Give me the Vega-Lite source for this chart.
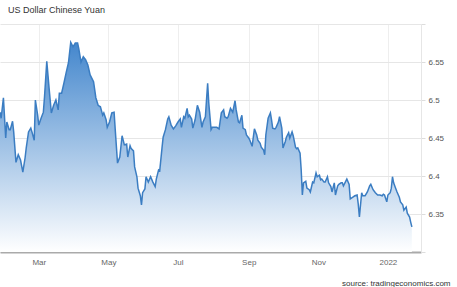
{
  "$schema": "https://vega.github.io/schema/vega-lite/v6.json",
  "width": 421,
  "height": 228,
  "autosize": {"type": "none"},
  "padding": {"left": 0, "top": 24, "right": 36, "bottom": 35},
  "background": "white",
  "title": {
    "text": "US Dollar Chinese Yuan",
    "anchor": "start",
    "frame": "group",
    "dx": 8,
    "offset": 9,
    "font": "Liberation Sans",
    "fontSize": 9,
    "fontWeight": "normal",
    "color": "#333333"
  },
  "config": {
    "view": {"stroke": null},
    "axis": {"labelFont": "Liberation Sans", "titleFont": "Liberation Sans"}
  },
  "data": {
    "values": [
      {"date": "2021-01-26", "rate": 6.484},
      {"date": "2021-01-27", "rate": 6.476},
      {"date": "2021-01-29", "rate": 6.503},
      {"date": "2021-01-31", "rate": 6.450},
      {"date": "2021-02-01", "rate": 6.471},
      {"date": "2021-02-03", "rate": 6.461},
      {"date": "2021-02-04", "rate": 6.461},
      {"date": "2021-02-06", "rate": 6.472},
      {"date": "2021-02-07", "rate": 6.458},
      {"date": "2021-02-09", "rate": 6.418},
      {"date": "2021-02-11", "rate": 6.428},
      {"date": "2021-02-13", "rate": 6.421},
      {"date": "2021-02-15", "rate": 6.405},
      {"date": "2021-02-17", "rate": 6.424},
      {"date": "2021-02-18", "rate": 6.437},
      {"date": "2021-02-20", "rate": 6.458},
      {"date": "2021-02-22", "rate": 6.463},
      {"date": "2021-02-23", "rate": 6.458},
      {"date": "2021-02-25", "rate": 6.447},
      {"date": "2021-02-26", "rate": 6.500},
      {"date": "2021-02-28", "rate": 6.480},
      {"date": "2021-03-01", "rate": 6.467},
      {"date": "2021-03-03", "rate": 6.476},
      {"date": "2021-03-05", "rate": 6.484},
      {"date": "2021-03-06", "rate": 6.504},
      {"date": "2021-03-08", "rate": 6.551},
      {"date": "2021-03-10", "rate": 6.516},
      {"date": "2021-03-12", "rate": 6.483},
      {"date": "2021-03-14", "rate": 6.493},
      {"date": "2021-03-16", "rate": 6.500},
      {"date": "2021-03-18", "rate": 6.487},
      {"date": "2021-03-19", "rate": 6.509},
      {"date": "2021-03-21", "rate": 6.509},
      {"date": "2021-03-23", "rate": 6.522},
      {"date": "2021-03-25", "rate": 6.536},
      {"date": "2021-03-27", "rate": 6.549},
      {"date": "2021-03-29", "rate": 6.576},
      {"date": "2021-03-31", "rate": 6.570},
      {"date": "2021-04-02", "rate": 6.575},
      {"date": "2021-04-04", "rate": 6.575},
      {"date": "2021-04-05", "rate": 6.568},
      {"date": "2021-04-07", "rate": 6.550},
      {"date": "2021-04-09", "rate": 6.557},
      {"date": "2021-04-11", "rate": 6.553},
      {"date": "2021-04-13", "rate": 6.546},
      {"date": "2021-04-15", "rate": 6.533},
      {"date": "2021-04-18", "rate": 6.524},
      {"date": "2021-04-20", "rate": 6.503},
      {"date": "2021-04-22", "rate": 6.493},
      {"date": "2021-04-24", "rate": 6.491},
      {"date": "2021-04-26", "rate": 6.480},
      {"date": "2021-04-27", "rate": 6.483},
      {"date": "2021-04-29", "rate": 6.474},
      {"date": "2021-04-30", "rate": 6.464},
      {"date": "2021-05-02", "rate": 6.471},
      {"date": "2021-05-04", "rate": 6.483},
      {"date": "2021-05-06", "rate": 6.484},
      {"date": "2021-05-07", "rate": 6.461},
      {"date": "2021-05-09", "rate": 6.417},
      {"date": "2021-05-11", "rate": 6.425},
      {"date": "2021-05-13", "rate": 6.453},
      {"date": "2021-05-15", "rate": 6.441},
      {"date": "2021-05-17", "rate": 6.442},
      {"date": "2021-05-18", "rate": 6.425},
      {"date": "2021-05-20", "rate": 6.440},
      {"date": "2021-05-21", "rate": 6.436},
      {"date": "2021-05-23", "rate": 6.433},
      {"date": "2021-05-24", "rate": 6.412},
      {"date": "2021-05-26", "rate": 6.399},
      {"date": "2021-05-27", "rate": 6.384},
      {"date": "2021-05-29", "rate": 6.374},
      {"date": "2021-05-30", "rate": 6.362},
      {"date": "2021-05-31", "rate": 6.378},
      {"date": "2021-06-02", "rate": 6.383},
      {"date": "2021-06-03", "rate": 6.399},
      {"date": "2021-06-05", "rate": 6.392},
      {"date": "2021-06-07", "rate": 6.399},
      {"date": "2021-06-09", "rate": 6.392},
      {"date": "2021-06-11", "rate": 6.386},
      {"date": "2021-06-12", "rate": 6.396},
      {"date": "2021-06-14", "rate": 6.408},
      {"date": "2021-06-15", "rate": 6.407},
      {"date": "2021-06-17", "rate": 6.437},
      {"date": "2021-06-18", "rate": 6.451},
      {"date": "2021-06-20", "rate": 6.461},
      {"date": "2021-06-22", "rate": 6.475},
      {"date": "2021-06-23", "rate": 6.478},
      {"date": "2021-06-25", "rate": 6.467},
      {"date": "2021-06-27", "rate": 6.462},
      {"date": "2021-06-29", "rate": 6.466},
      {"date": "2021-07-01", "rate": 6.471},
      {"date": "2021-07-03", "rate": 6.475},
      {"date": "2021-07-04", "rate": 6.464},
      {"date": "2021-07-06", "rate": 6.478},
      {"date": "2021-07-07", "rate": 6.476},
      {"date": "2021-07-09", "rate": 6.489},
      {"date": "2021-07-10", "rate": 6.478},
      {"date": "2021-07-11", "rate": 6.480},
      {"date": "2021-07-13", "rate": 6.475},
      {"date": "2021-07-14", "rate": 6.463},
      {"date": "2021-07-16", "rate": 6.474},
      {"date": "2021-07-18", "rate": 6.493},
      {"date": "2021-07-20", "rate": 6.484},
      {"date": "2021-07-22", "rate": 6.464},
      {"date": "2021-07-23", "rate": 6.471},
      {"date": "2021-07-25", "rate": 6.478},
      {"date": "2021-07-27", "rate": 6.522},
      {"date": "2021-07-28", "rate": 6.496},
      {"date": "2021-07-30", "rate": 6.461},
      {"date": "2021-07-31", "rate": 6.464},
      {"date": "2021-08-02", "rate": 6.464},
      {"date": "2021-08-04", "rate": 6.464},
      {"date": "2021-08-06", "rate": 6.462},
      {"date": "2021-08-08", "rate": 6.483},
      {"date": "2021-08-10", "rate": 6.487},
      {"date": "2021-08-11", "rate": 6.478},
      {"date": "2021-08-13", "rate": 6.476},
      {"date": "2021-08-14", "rate": 6.478},
      {"date": "2021-08-16", "rate": 6.489},
      {"date": "2021-08-18", "rate": 6.484},
      {"date": "2021-08-20", "rate": 6.499},
      {"date": "2021-08-21", "rate": 6.487},
      {"date": "2021-08-23", "rate": 6.471},
      {"date": "2021-08-24", "rate": 6.470},
      {"date": "2021-08-26", "rate": 6.480},
      {"date": "2021-08-27", "rate": 6.463},
      {"date": "2021-08-29", "rate": 6.461},
      {"date": "2021-08-30", "rate": 6.454},
      {"date": "2021-09-01", "rate": 6.450},
      {"date": "2021-09-02", "rate": 6.447},
      {"date": "2021-09-04", "rate": 6.439},
      {"date": "2021-09-05", "rate": 6.451},
      {"date": "2021-09-06", "rate": 6.462},
      {"date": "2021-09-08", "rate": 6.454},
      {"date": "2021-09-09", "rate": 6.447},
      {"date": "2021-09-11", "rate": 6.443},
      {"date": "2021-09-12", "rate": 6.438},
      {"date": "2021-09-14", "rate": 6.434},
      {"date": "2021-09-15", "rate": 6.428},
      {"date": "2021-09-16", "rate": 6.454},
      {"date": "2021-09-18", "rate": 6.476},
      {"date": "2021-09-20", "rate": 6.483},
      {"date": "2021-09-21", "rate": 6.474},
      {"date": "2021-09-22", "rate": 6.463},
      {"date": "2021-09-24", "rate": 6.462},
      {"date": "2021-09-25", "rate": 6.464},
      {"date": "2021-09-27", "rate": 6.471},
      {"date": "2021-09-28", "rate": 6.478},
      {"date": "2021-09-30", "rate": 6.463},
      {"date": "2021-10-01", "rate": 6.437},
      {"date": "2021-10-03", "rate": 6.445},
      {"date": "2021-10-04", "rate": 6.451},
      {"date": "2021-10-06", "rate": 6.457},
      {"date": "2021-10-07", "rate": 6.450},
      {"date": "2021-10-09", "rate": 6.458},
      {"date": "2021-10-10", "rate": 6.453},
      {"date": "2021-10-12", "rate": 6.438},
      {"date": "2021-10-13", "rate": 6.436},
      {"date": "2021-10-14", "rate": 6.437},
      {"date": "2021-10-16", "rate": 6.430},
      {"date": "2021-10-17", "rate": 6.408},
      {"date": "2021-10-18", "rate": 6.375},
      {"date": "2021-10-19", "rate": 6.391},
      {"date": "2021-10-21", "rate": 6.393},
      {"date": "2021-10-22", "rate": 6.384},
      {"date": "2021-10-24", "rate": 6.382},
      {"date": "2021-10-25", "rate": 6.379},
      {"date": "2021-10-27", "rate": 6.392},
      {"date": "2021-10-28", "rate": 6.391},
      {"date": "2021-10-30", "rate": 6.404},
      {"date": "2021-10-31", "rate": 6.399},
      {"date": "2021-11-02", "rate": 6.401},
      {"date": "2021-11-03", "rate": 6.395},
      {"date": "2021-11-04", "rate": 6.396},
      {"date": "2021-11-06", "rate": 6.392},
      {"date": "2021-11-07", "rate": 6.392},
      {"date": "2021-11-09", "rate": 6.399},
      {"date": "2021-11-10", "rate": 6.391},
      {"date": "2021-11-12", "rate": 6.386},
      {"date": "2021-11-13", "rate": 6.379},
      {"date": "2021-11-15", "rate": 6.391},
      {"date": "2021-11-16", "rate": 6.375},
      {"date": "2021-11-18", "rate": 6.387},
      {"date": "2021-11-19", "rate": 6.389},
      {"date": "2021-11-21", "rate": 6.391},
      {"date": "2021-11-22", "rate": 6.391},
      {"date": "2021-11-23", "rate": 6.387},
      {"date": "2021-11-25", "rate": 6.393},
      {"date": "2021-11-26", "rate": 6.396},
      {"date": "2021-11-28", "rate": 6.389},
      {"date": "2021-11-29", "rate": 6.370},
      {"date": "2021-12-01", "rate": 6.372},
      {"date": "2021-12-03", "rate": 6.374},
      {"date": "2021-12-05", "rate": 6.375},
      {"date": "2021-12-06", "rate": 6.363},
      {"date": "2021-12-07", "rate": 6.346},
      {"date": "2021-12-09", "rate": 6.378},
      {"date": "2021-12-10", "rate": 6.374},
      {"date": "2021-12-12", "rate": 6.374},
      {"date": "2021-12-14", "rate": 6.379},
      {"date": "2021-12-16", "rate": 6.387},
      {"date": "2021-12-17", "rate": 6.389},
      {"date": "2021-12-19", "rate": 6.382},
      {"date": "2021-12-21", "rate": 6.378},
      {"date": "2021-12-23", "rate": 6.375},
      {"date": "2021-12-25", "rate": 6.375},
      {"date": "2021-12-27", "rate": 6.374},
      {"date": "2021-12-28", "rate": 6.376},
      {"date": "2021-12-29", "rate": 6.375},
      {"date": "2021-12-31", "rate": 6.366},
      {"date": "2022-01-01", "rate": 6.375},
      {"date": "2022-01-03", "rate": 6.378},
      {"date": "2022-01-04", "rate": 6.384},
      {"date": "2022-01-05", "rate": 6.399},
      {"date": "2022-01-06", "rate": 6.391},
      {"date": "2022-01-08", "rate": 6.383},
      {"date": "2022-01-09", "rate": 6.379},
      {"date": "2022-01-11", "rate": 6.372},
      {"date": "2022-01-12", "rate": 6.366},
      {"date": "2022-01-14", "rate": 6.362},
      {"date": "2022-01-15", "rate": 6.355},
      {"date": "2022-01-17", "rate": 6.359},
      {"date": "2022-01-18", "rate": 6.351},
      {"date": "2022-01-20", "rate": 6.346},
      {"date": "2022-01-21", "rate": 6.339},
      {"date": "2022-01-22", "rate": 6.333}
    ]
  },
  "mark": {
    "type": "area",
    "opacity": 1,
    "color": {
      "gradient": "linear",
      "x1": 1, "y1": 1, "x2": 1, "y2": 0,
      "stops": [
        {"offset": 0, "color": "#ffffff"},
        {"offset": 1, "color": "#4487cd"}
      ]
    },
    "line": {"color": "#3b7dc2", "strokeWidth": 1.5},
    "interpolate": "linear",
    "clip": true
  },
  "encoding": {
    "x": {
      "field": "date",
      "type": "temporal",
      "scale": {"domain": ["2021-01-26", "2022-01-30"], "nice": false},
      "axis": {
        "values": [
          {"year": 2021, "month": 3, "date": 1},
          {"year": 2021, "month": 5, "date": 1},
          {"year": 2021, "month": 7, "date": 1},
          {"year": 2021, "month": 9, "date": 1},
          {"year": 2021, "month": 11, "date": 1},
          {"year": 2022, "month": 1, "date": 1}
        ],
        "labelExpr": "month(datum.value) == 0 ? timeFormat(datum.value, '%Y') : timeFormat(datum.value, '%b')",
        "labelColor": "#666666",
        "labelFontSize": 8,
        "labelPadding": 6,
        "ticks": false,
        "grid": true,
        "gridColor": "#eeeeee",
        "gridWidth": 1,
        "domainColor": "#aaaaaa",
        "domainWidth": 2,
        "title": "source: tradingeconomics.com",
        "titleFontSize": 8,
        "titleFontWeight": "normal",
        "titleColor": "#333333",
        "titleAnchor": "end",
        "titleAlign": "right",
        "titleX": 450,
        "titleY": 33,
        "titleBaseline": "alphabetic"
      }
    },
    "y": {
      "field": "rate",
      "type": "quantitative",
      "scale": {"domain": [6.3, 6.6], "zero": false, "nice": false},
      "axis": {
        "orient": "right",
        "values": [6.3, 6.35, 6.4, 6.45, 6.5, 6.55, 6.6],
        "format": ".2~f",
        "labelExpr": "datum.value < 6.34 || datum.value > 6.56 ? '' : datum.label",
        "labelColor": "#555555",
        "labelFontSize": 8,
        "labelPadding": 3,
        "ticks": true,
        "tickSize": 4,
        "tickColor": "#dddddd",
        "grid": true,
        "gridColor": "#e6e6e6",
        "domainColor": "#e6e6e6",
        "domainWidth": 1,
        "title": null
      }
    },
    "y2": {"datum": 6.3}
  }
}
